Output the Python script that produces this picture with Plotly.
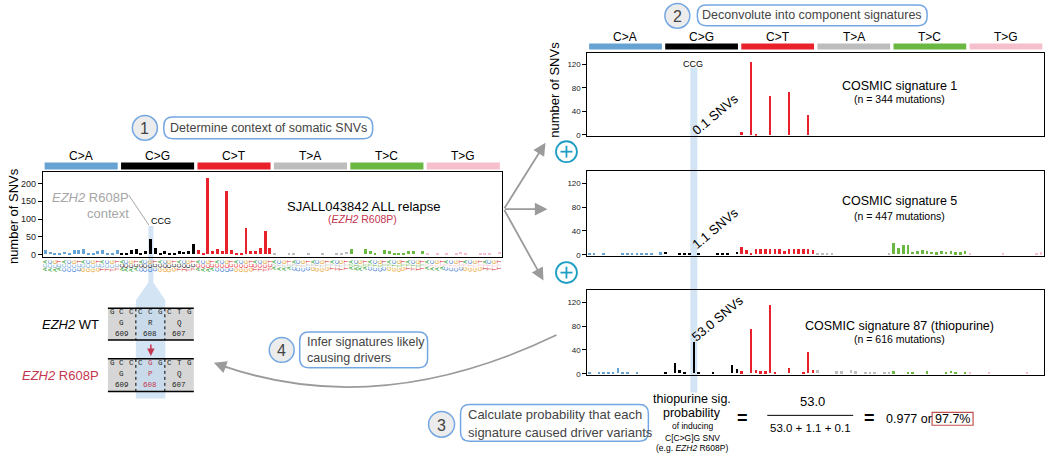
import plotly.graph_objects as go

W, H = 1050, 460
FONT = "Arial, Liberation Sans, sans-serif"
MONO = "Courier New, Liberation Mono, monospace"

# ---------------- data ----------------
mutation_types = ['C>A', 'C>G', 'C>T', 'T>A', 'T>C', 'T>G']
type_colors = ['#66a3d2', '#000000', '#e8212a', '#bdbdbd', '#6ab742', '#f5c0cb']
bases = ['A', 'C', 'G', 'T']
base_colors = {'A': '#2ca02c', 'C': '#1f6fd1', 'G': '#e89a0c', 'T': '#d62728'}

# SJALL043842 ALL relapse (number of SNVs per trinucleotide context)
sample_counts = [
    12, 6, 1, 5, 7, 4, 11, 11, 14, 4, 4, 9, 13, 4, 1, 11,          # C>A
    5, 5, 12, 14, 5, 8, 44, 17, 1, 8, 4, 1, 10, 6, 10, 29,         # C>G
    12, 4, 215, 10, 14, 9, 178, 12, 5, 4, 74, 10, 10, 17, 66, 17,  # C>T
    4, 0, 0, 3, 3, 0, 0, 3, 0, 0, 4, 0, 0, 3, 3, 6,                # T>A
    14, 0, 0, 14, 9, 5, 0, 11, 8, 5, 5, 5, 9, 9, 0, 9,             # T>C
    2, 0, 1, 0, 2, 0, 1, 6, 2, 0, 0, 1, 4, 1, 0, 7,                # T>G
]
# COSMIC signature 1 (n = 344 mutations)
sig1_counts = [
    0, 0, 0, 0, 0, 0, 0, 0, 0, 0, 0, 0, 0, 0, 0, 0,
    0, 0, 0, 0, 0, 0, 0, 0, 0, 0, 0, 0, 0, 0, 0, 0,
    6, 0, 125, 2, 0, 0, 67, 0, 0, 0, 74, 0, 0, 0, 35, 0,
    0, 0, 0, 0, 0, 0, 0, 0, 0, 0, 0, 0, 0, 0, 0, 0,
    0, 0, 0, 0, 0, 0, 0, 0, 0, 0, 0, 0, 0, 0, 0, 0,
    0, 0, 0, 0, 0, 0, 0, 0, 0, 0, 0, 0, 0, 0, 0, 0,
]
# COSMIC signature 5 (n = 447 mutations)
sig5_counts = [
    2, 1, 0, 1, 0, 0, 0, 2, 2, 1, 2, 2, 1, 2, 0, 3,
    4, 0, 0, 2, 2, 2, 0, 1.5, 0, 0, 0, 2, 2, 2, 0, 4,
    13, 7, 1, 8, 8, 8, 9, 8, 9, 6, 8, 9, 9, 8, 9, 7,
    2, 2, 2, 1, 0, 0, 0, 0, 0, 0, 0, 0, 0, 0, 0, 1,
    19, 10, 16, 16, 4, 5, 7, 5, 4, 3, 5, 4, 5, 3, 3, 6,
    1, 0, 0, 0, 0, 0, 0, 2, 0, 0, 0, 0, 0, 0, 2, 3,
]
# COSMIC signature 87 (thiopurine) (n = 616 mutations)
sig87_counts = [
    2, 0, 1, 1, 2, 2, 9, 1, 1, 0, 2, 0, 0, 0, 0, 0,
    2, 0, 17, 5, 2, 0, 52, 2, 0, 0, 1, 0, 0, 0, 14, 7,
    3, 0, 74, 5, 3, 3, 115, 2, 0, 0, 9, 0, 0, 2, 36, 5,
    6, 0, 0, 0, 3, 3, 0, 5, 3, 0, 2, 2, 2, 0, 2, 2,
    3, 0, 0, 2, 2, 0, 0, 3, 0, 0, 0, 2, 4, 2, 0, 2,
    2, 0, 0, 0, 2, 0, 0, 0, 0, 0, 0, 0, 2, 0, 0, 0,
]
signature_titles = ['COSMIC signature 1', 'COSMIC signature 5', 'COSMIC signature 87 (thiopurine)']
signature_n = ['(n = 344 mutations)', '(n = 447 mutations)', '(n = 616 mutations)']
ccg_snvs = ['0.1 SNVs', '1.1 SNVs', '53.0 SNVs']

wt_codons = ['GCC', 'CCG', 'CTG']
mut_codons = ['GCC', 'CGG', 'CTG']
wt_aa = ['G', 'R', 'Q']
mut_aa = ['G', 'P', 'Q']
codon_pos = ['609', '608', '607']

# ---------------- derived labels ----------------
xs = list(range(96))
bar_colors, ticktext = [], []
for t, m in enumerate(mutation_types):
    ref = m[0]
    for b5 in bases:
        for b3 in bases:
            bar_colors.append(type_colors[t])
            ticktext.append(
                f"<span style='color:{base_colors[b5]}'>{b5}</span>"
                f"<span style='color:{type_colors[t]}'>{ref}</span>"
                f"<span style='color:{base_colors[b3]}'>{b3}</span>")

CRIMSON = '#c4364f'
BLUEBORDER = '#74a7e2'
STRIP = 'rgba(196,220,240,0.75)'
GRAYARROW = '#9b9b9b'
TEAL = '#1f9ec4'

shapes, annotations = [], []


def c(x, y):
    return f"{x / W:.5f},{1 - y / H:.5f}"


def rrect(x0, y0, x1, y1, r=8, line=BLUEBORDER, fill='white', width=1.5):
    p = (f"M{c(x0 + r, y0)} L{c(x1 - r, y0)} Q{c(x1, y0)} {c(x1, y0 + r)} "
         f"L{c(x1, y1 - r)} Q{c(x1, y1)} {c(x1 - r, y1)} L{c(x0 + r, y1)} "
         f"Q{c(x0, y1)} {c(x0, y1 - r)} L{c(x0, y0 + r)} Q{c(x0, y0)} {c(x0 + r, y0)} Z")
    shapes.append(dict(type='path', path=p, xref='paper', yref='paper',
                       line=dict(color=line, width=width), fillcolor=fill, layer='above'))


def circle(cx, cy, r, line, fill, width=1.5, layer='above'):
    shapes.append(dict(type='circle', xref='paper', yref='paper',
                       x0=(cx - r) / W, x1=(cx + r) / W, y0=1 - (cy + r) / H, y1=1 - (cy - r) / H,
                       line=dict(color=line, width=width), fillcolor=fill, layer=layer))


def line(x0, y0, x1, y1, color='black', width=1, dash='solid', layer='above'):
    shapes.append(dict(type='line', xref='paper', yref='paper', x0=x0 / W, x1=x1 / W,
                       y0=1 - y0 / H, y1=1 - y1 / H, line=dict(color=color, width=width, dash=dash),
                       layer=layer))


def rect(x0, y0, x1, y1, fill, linecolor=None, width=0, layer='below'):
    shapes.append(dict(type='rect', xref='paper', yref='paper', x0=x0 / W, x1=x1 / W,
                       y0=1 - y1 / H, y1=1 - y0 / H, fillcolor=fill,
                       line=dict(color=linecolor or fill, width=width), layer=layer))


def txt(x, y, s, size=12.5, color='black', xanchor='center', family=FONT, angle=0):
    annotations.append(dict(x=x / W, y=1 - y / H, xref='paper', yref='paper', text=s,
                            showarrow=False, xanchor=xanchor, yanchor='middle', textangle=angle,
                            font=dict(size=size, color=color, family=family)))


def arrow(x_tip, y_tip, x_tail, y_tail, color=GRAYARROW, width=1.8, size=1.4, head=2):
    annotations.append(dict(x=x_tip / W, y=1 - y_tip / H, xref='paper', yref='paper',
                            ax=x_tail - x_tip, ay=y_tail - y_tip, text='', showarrow=True,
                            arrowhead=head, arrowsize=size, arrowwidth=width, arrowcolor=color))


# ---------------- figure ----------------
fig = go.Figure()
fig.add_trace(go.Bar(x=xs, y=sample_counts, marker=dict(color=bar_colors, line=dict(width=0)),
                     width=0.62, xaxis='x', yaxis='y', showlegend=False, hoverinfo='skip'))
for k, vals in enumerate([sig1_counts, sig5_counts, sig87_counts]):
    fig.add_trace(go.Bar(x=xs, y=vals, marker=dict(color=bar_colors, line=dict(width=0)),
                         width=0.55, xaxis=f'x{k + 2}', yaxis=f'y{k + 2}', showlegend=False,
                         hoverinfo='skip'))

axis_common = dict(showline=True, mirror=True, linecolor='black', linewidth=1.2,
                   showgrid=False, zeroline=False, fixedrange=True)

layout = dict(
    width=W, height=H, margin=dict(l=0, r=0, t=0, b=0),
    paper_bgcolor='white', plot_bgcolor='rgba(0,0,0,0)', bargap=0,
    font=dict(family=FONT, color='black'),
    xaxis=dict(domain=[42 / W, 501 / W], range=[-0.5, 95.5], anchor='y', tickmode='array',
               tickvals=xs, ticktext=ticktext, tickangle=-90, ticks='',
               tickfont=dict(size=5.5, family=FONT), **axis_common),
    yaxis=dict(domain=[1 - 259 / H, 1 - 174 / H], range=[-5.5, 230.5], anchor='x',
               tickvals=[0, 50, 100, 150, 200], ticks='outside', ticklen=4, tickwidth=1,
               tickcolor='black', tickfont=dict(size=9, color='#222'), **axis_common),
)
right_y = [(53, 137), (173, 258), (293, 378)]
for k, (top, bot) in enumerate(right_y):
    n = k + 2
    layout[f'xaxis{n}'] = dict(domain=[587 / W, 1044 / W], range=[-0.5, 95.5], anchor=f'y{n}',
                               showticklabels=False, ticks='', **axis_common)
    layout[f'yaxis{n}'] = dict(domain=[1 - bot / H, 1 - top / H], range=[-1.7, 140], anchor=f'x{n}',
                               tickvals=[0, 40, 80, 120], ticks='outside', ticklen=4, tickwidth=1,
                               tickcolor='black', tickfont=dict(size=8, color='#222'), **axis_common)

# ----- highlight strips (below traces) -----
for (top, bot) in [(311, 343), (362, 395)]:
    rect(107, top, 193, bot, '#d6d6d6', layer='below')
strip_path = (f"M{c(147.5, 228)} L{c(152.5, 228)} L{c(152.5, 285)} L{c(164.5, 303)} "
              f"L{c(164.5, 402)} L{c(135, 402)} L{c(135, 303)} L{c(147.5, 285)} Z")
shapes.append(dict(type='path', path=strip_path, xref='paper', yref='paper',
                   fillcolor=STRIP, line=dict(width=0), layer='below'))
rect(690, 68, 697, 396, STRIP, layer='below')

# ----- category header bars -----
for i, m in enumerate(mutation_types):
    for xref, y0, y1, ylab in [('x', 164, 171, 157), ('x2', 44, 50, 37)]:
        shapes.append(dict(type='rect', xref=xref, yref='paper', x0=16 * i - 0.5 + 0.35,
                           x1=16 * i + 15.5 - 0.35, y0=1 - y1 / H, y1=1 - y0 / H,
                           fillcolor=type_colors[i], line=dict(width=0), layer='above'))
        annotations.append(dict(x=16 * i + 7.5, y=1 - ylab / H, xref=xref, yref='paper', text=m,
                                showarrow=False, xanchor='center', yanchor='middle',
                                font=dict(size=12, family=FONT, color='black')))

# ----- axis titles -----
txt(12, 218, 'number of SNVs', size=13, angle=-90)
txt(554, 90, 'number of SNVs', size=13, angle=-90)

# ----- left panel texts -----
txt(363, 208, 'SJALL043842 ALL relapse', size=13)
txt(362, 221, "(<i>EZH2</i> R608P)", size=10.5, color=CRIMSON)
txt(90, 199, '<i>EZH2</i> R608P', size=13, color='#a6a6a6')
txt(107, 215, 'context', size=13, color='#a6a6a6')
line(128, 197, 148, 227, color='#a6a6a6', width=1)
txt(160, 223, 'CCG', size=9)

# ----- right panel texts -----
txt(693, 65, 'CCG', size=9)
title_y = [(87, 100), (203, 218), (329, 342)]
for k in range(3):
    txt(899, title_y[k][0], signature_titles[k], size=12.5)
    txt(899, title_y[k][1], signature_n[k], size=10.5)
snv_pos = [(715, 116), (715, 231), (717, 321)]
for k in range(3):
    txt(snv_pos[k][0], snv_pos[k][1], ccg_snvs[k], size=13, angle=-40)

# ----- steps -----
circle(144, 129, 12.5, BLUEBORDER, '#ececec')
txt(144, 130, '1', size=16, color='#444')
rrect(163, 118, 372, 140, r=9)
txt(267.5, 129, 'Determine context of somatic SNVs', size=12.5, color='#444')

circle(677, 16, 12.5, BLUEBORDER, '#ececec')
txt(677, 17, '2', size=16, color='#444')
rrect(697, 5, 927, 26, r=9)
txt(812, 15.5, 'Deconvolute into component signatures', size=12.5, color='#444')

circle(441, 428, 13, BLUEBORDER, '#ececec')
txt(441, 429, '3', size=16, color='#444')
rrect(460, 408, 648, 445, r=9)
txt(465, 418, 'Calculate probability that each', size=13, color='#444', xanchor='left')
txt(465, 436, 'signature caused driver variants', size=13, color='#444', xanchor='left')

circle(281, 353, 12.5, BLUEBORDER, '#ececec')
txt(281, 354, '4', size=16, color='#444')
rrect(299, 335, 427, 371, r=9)
txt(304, 345, 'Infer signatures likely', size=12.5, color='#444', xanchor='left')
txt(304, 361, 'causing drivers', size=12.5, color='#444', xanchor='left')

# ----- gray arrows from sample to signatures -----
arrow(545, 144, 503, 211)
arrow(547, 211, 503, 211)
arrow(543, 283, 503, 211)
for cy in (153, 275):
    circle(566, cy, 10.5, TEAL, 'white', width=1.8)
    line(560, cy, 572, cy, color=TEAL, width=1.8)
    line(566, cy - 6, 566, cy + 6, color=TEAL, width=1.8)

# ----- step 4 curved arrow -----
shapes.append(dict(type='path', xref='paper', yref='paper',
                   path=f"M{c(556, 338)} Q{c(378, 424)} {c(222, 369)}",
                   line=dict(color=GRAYARROW, width=1.8), layer='above'))
arrow(213, 366, 228, 371.5, size=1.4)

# ----- EZH2 sequence boxes -----
cells = [(107, 135), (135, 164), (164, 193)]
for (top, bot), codons, aas, label, lab_color, hl in [
        ((311, 343), wt_codons, wt_aa, '<i>EZH2</i> WT', 'black', False),
        ((362, 395), mut_codons, mut_aa, '<i>EZH2</i> R608P', CRIMSON, True)]:
    line(107, top, 193, top, width=1.5)
    line(107, bot, 193, bot, width=1.5)
    for xs_ in (135, 164):
        line(xs_, top, xs_, bot, width=1, dash='dot')
    for j, (l, r) in enumerate(cells):
        cx = (l + r) / 2
        for q, ch in enumerate(codons[j]):
            col = CRIMSON if (hl and j == 1 and q == 1) else '#222'
            txt(l + 4.5 + q * (r - l - 9) / 2, top + 4, ch, size=7.5, family=MONO, color=col)
        col = CRIMSON if (hl and j == 1) else '#222'
        txt(cx, top + 15, aas[j], size=7.5, family=MONO, color=col)
        txt(cx, top + 26, codon_pos[j], size=7.5, family=MONO, color=col)
    txt(100, (top + bot) / 2, label, size=13, color=lab_color, xanchor='right')
arrow(150, 359, 150, 346, color=CRIMSON, width=1.5, size=1, head=2)

# ----- formula -----
txt(692, 403, 'thiopurine sig.', size=12.5)
txt(692, 417, 'probability', size=12.5)
txt(692, 430, 'of inducing', size=8.5)
txt(692, 442, 'C[C>G]G SNV', size=8.5)
txt(692, 452, '(e.g. <i>EZH2</i> R608P)', size=8.5)
txt(742, 422, '<b>=</b>', size=18)
txt(812, 405, '53.0', size=13)
line(767, 419, 853, 419, width=1)
txt(810, 432, '53.0 + 1.1 + 0.1', size=11.5)
txt(869.5, 422, '<b>=</b>', size=18)
txt(884, 422.5, '0.977 or', size=12.5, xanchor='left')
txt(952.5, 422.5, '97.7%', size=12.5)
shapes.append(dict(type='rect', xref='paper', yref='paper', x0=932 / W, x1=973 / W,
                   y0=1 - 429 / H, y1=1 - 416 / H, line=dict(color='#c0504d', width=1.2),
                   fillcolor='rgba(0,0,0,0)', layer='above'))

layout['shapes'] = shapes
layout['annotations'] = annotations
fig.update_layout(**layout)
fig.write_html("out.html", config={'displayModeBar': False},
               post_script="document.body.style.margin='0';")
